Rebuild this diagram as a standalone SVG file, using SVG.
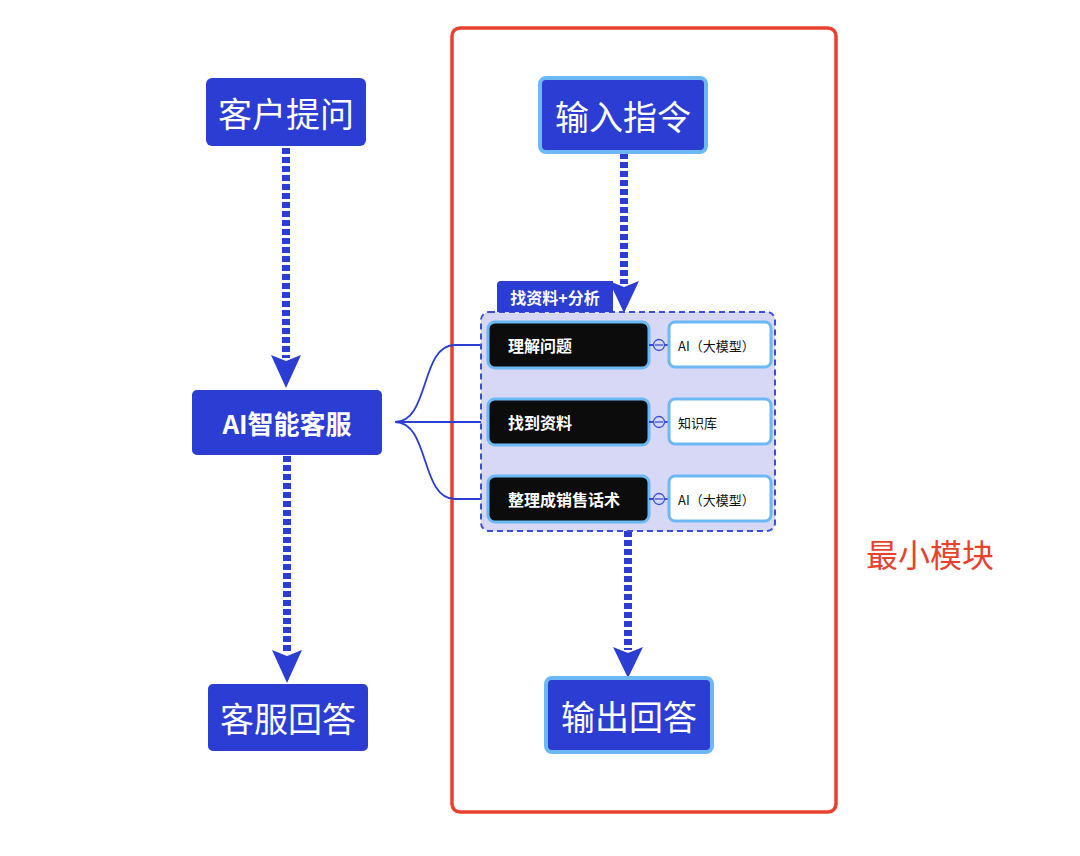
<svg xmlns="http://www.w3.org/2000/svg" width="1080" height="856" viewBox="0 0 1080 856">
<defs>
<style>
.big{fill:#2b3dd3}
.t{font-family:"Noto Sans CJK SC","Noto Sans",sans-serif;fill:#fff;text-anchor:middle;dominant-baseline:central}
.flow{stroke:#2b3dd3;stroke-width:8;stroke-dasharray:6 3;fill:none}
.blk{fill:#0c0c0c;stroke:#6cb8f4;stroke-width:3}
.sub{fill:#fff;stroke:#6cb8f4;stroke-width:3}
.st{font-family:"Noto Sans CJK SC","Noto Sans",sans-serif;font-size:13px;fill:#111;dominant-baseline:central}
.cur{stroke:#2b3dd3;stroke-width:1.8;fill:none}
</style>
<marker id="ah" viewBox="0 0 30 30" refX="15" refY="28" markerWidth="30" markerHeight="30" markerUnits="userSpaceOnUse" orient="auto-start-reverse">
<path d="M0,0 L15,6 L30,0 L15,30 Z" fill="#2b3dd3" transform="rotate(0)"/>
</marker>
<marker id="ad" viewBox="0 0 30 30" refX="15" refY="28" markerWidth="30" markerHeight="30" markerUnits="userSpaceOnUse" orient="0">
<path d="M0,0 L15,6 L30,0 L15,30 Z" fill="#2b3dd3"/>
</marker>
</defs>
<rect x="452" y="28" width="384" height="784" rx="8" fill="none" stroke="#e8412f" stroke-width="3.5"/>
<text x="930" y="553" font-family="Noto Sans CJK SC,sans-serif" font-size="32" fill="#e8412f" text-anchor="middle" dominant-baseline="central">最小模块</text>
<g id="connectors">
<line class="flow" x1="286" y1="148" x2="286" y2="358"/>
<path d="M271,355 L286,361 L301,355 L286,388 Z" fill="#2b3dd3"/>
<line class="flow" x1="287" y1="456" x2="287" y2="652"/>
<path d="M272,650 L287,656 L302,650 L287,683 Z" fill="#2b3dd3"/>
<line class="flow" x1="624" y1="153" x2="624" y2="284"/>
<path d="M609,281 L624,287 L639,281 L624,313 Z" fill="#2b3dd3"/>
<line class="flow" x1="628" y1="531" x2="628" y2="650"/>
<path d="M613,647 L628,653 L643,647 L628,678 Z" fill="#2b3dd3"/>
<path class="cur" d="M395,422 C430,422 420,345 455,345 L488,345"/>
<path class="cur" d="M395,422 L488,422"/>
<path class="cur" d="M395,422 C430,422 420,499 455,499 L488,499"/>
</g>
<g id="n1"><rect class="big" x="206" y="78" width="160" height="68" rx="6"/><text class="t" x="286" y="112" font-size="34">客户提问</text></g>
<g id="n2"><rect class="big" x="192" y="390" width="190" height="65" rx="5"/><text class="t" x="287" y="422" font-size="26" font-weight="bold">AI智能客服</text></g>
<g id="n3"><rect class="big" x="208" y="684" width="160" height="67" rx="5"/><text class="t" x="288" y="717" font-size="34">客服回答</text></g>
<g id="n4"><rect x="540" y="78" width="166" height="74" rx="6" fill="#2b3dd3" stroke="#6cb8f4" stroke-width="4"/><text class="t" x="623" y="115" font-size="34">输入指令</text></g>
<g id="n5"><rect x="546" y="678" width="166" height="74" rx="6" fill="#2b3dd3" stroke="#6cb8f4" stroke-width="4"/><text class="t" x="629" y="715" font-size="34">输出回答</text></g>
<g id="group">
<rect x="481" y="312" width="294" height="219" rx="8" fill="#d6d8f6" stroke="#3a4fd8" stroke-width="2" stroke-dasharray="6 4"/>
<path d="M497,312 V285 a4,4 0 0 1 4,-4 H613 V312 Z" fill="#2b3dd3"/>
<text class="t" x="555" y="297" font-size="16" font-weight="bold">找资料+分析</text>
</g>
<g id="k1"><rect class="blk" x="488" y="322" width="161" height="46" rx="7"/><text class="t" x="508" y="345" font-size="16" font-weight="bold" text-anchor="start" style="text-anchor:start">理解问题</text>
<line x1="649" y1="345" x2="669" y2="345" class="cur" stroke-width="1.5"/><circle cx="659" cy="345" r="5.5" fill="#d6d8f6" stroke="#3a4fd8" stroke-width="1.3"/><line x1="655" y1="345" x2="663" y2="345" stroke="#3a4fd8" stroke-width="1.3"/>
<rect class="sub" x="669" y="322" width="102" height="45" rx="6"/><text class="st" x="678" y="345">AI（大模型）</text></g>
<g id="k2"><rect class="blk" x="488" y="399" width="161" height="46" rx="7"/><text class="t" x="508" y="422" font-size="16" font-weight="bold" style="text-anchor:start">找到资料</text>
<line x1="649" y1="422" x2="669" y2="422" class="cur" stroke-width="1.5"/><circle cx="659" cy="422" r="5.5" fill="#d6d8f6" stroke="#3a4fd8" stroke-width="1.3"/><line x1="655" y1="422" x2="663" y2="422" stroke="#3a4fd8" stroke-width="1.3"/>
<rect class="sub" x="669" y="399" width="102" height="45" rx="6"/><text class="st" x="678" y="422">知识库</text></g>
<g id="k3"><rect class="blk" x="488" y="476" width="161" height="46" rx="7"/><text class="t" x="508" y="499" font-size="16" font-weight="bold" style="text-anchor:start">整理成销售话术</text>
<line x1="649" y1="499" x2="669" y2="499" class="cur" stroke-width="1.5"/><circle cx="659" cy="499" r="5.5" fill="#d6d8f6" stroke="#3a4fd8" stroke-width="1.3"/><line x1="655" y1="499" x2="663" y2="499" stroke="#3a4fd8" stroke-width="1.3"/>
<rect class="sub" x="669" y="476" width="102" height="45" rx="6"/><text class="st" x="678" y="499">AI（大模型）</text></g>
</svg>
